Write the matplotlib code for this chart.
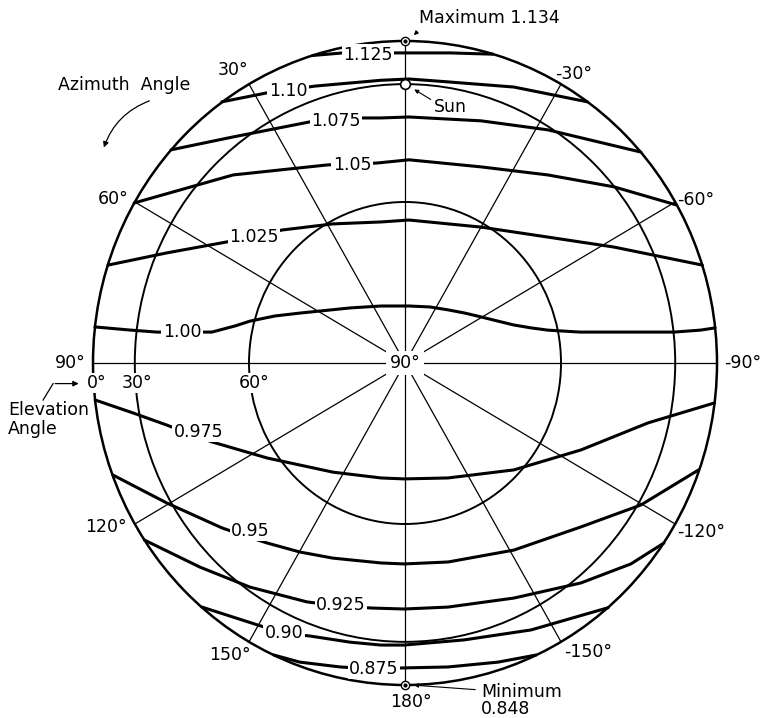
import numpy as np
import matplotlib
matplotlib.use("Agg")
import matplotlib.pyplot as plt
from matplotlib.patches import Ellipse, FancyArrowPatch

# Sky radiance ratio contours, given as direction cosines on the sky hemisphere
# (x: toward azimuth -90 positive, y: toward azimuth 0 positive; horizon is the unit circle)
c1125_x = [-0.296, -0.199, -0.119, -0.048, 0.013, 0.144, 0.282]
c1125_y = [0.955, 0.963, 0.963, 0.963, 0.963, 0.963, 0.959]

c1100_x = [-0.587, -0.442, -0.375, -0.288, -0.077, 0.013, 0.138, 0.349, 0.585]
c1100_y = [0.811, 0.839, 0.848, 0.860, 0.878, 0.882, 0.873, 0.857, 0.811]

c1075_x = [-0.750, -0.551, -0.304, -0.221, -0.138, -0.077, 0.013, 0.244, 0.458, 0.756]
c1075_y = [0.662, 0.702, 0.749, 0.755, 0.761, 0.761, 0.764, 0.752, 0.724, 0.655]

c1050_x = [-0.868, -0.551, -0.250, -0.170, -0.090, 0.013, 0.244, 0.458, 0.670, 0.869]
c1050_y = [0.497, 0.584, 0.615, 0.618, 0.621, 0.631, 0.609, 0.584, 0.547, 0.491]

c1025_x = [-0.952, -0.763, -0.571, -0.484, -0.394, -0.231, -0.077, 0.013, 0.244, 0.458, 0.670, 0.953]
c1025_y = [0.304, 0.342, 0.376, 0.394, 0.413, 0.432, 0.438, 0.444, 0.422, 0.391, 0.360, 0.304]

c1000_x = [-0.994, -0.878, -0.795, -0.715, -0.619, -0.545, -0.497, -0.417, -0.337, -0.176, -0.077,
           0.013, 0.080, 0.138, 0.192, 0.244, 0.298, 0.349, 0.404, 0.458, 0.561, 0.670, 0.862,
           0.946, 0.994]
c1000_y = [0.112, 0.102, 0.096, 0.096, 0.096, 0.115, 0.130, 0.146, 0.155, 0.171, 0.177,
           0.177, 0.174, 0.165, 0.155, 0.143, 0.130, 0.118, 0.109, 0.102, 0.096, 0.096, 0.096,
           0.102, 0.109]

c0975_x = [-0.993, -0.872, -0.763, -0.689, -0.619, -0.442, -0.231, -0.077, -0.003, 0.138, 0.349,
           0.564, 0.779, 0.992]
c0975_y = [-0.115, -0.155, -0.193, -0.221, -0.245, -0.295, -0.339, -0.357, -0.360, -0.357, -0.332,
           -0.270, -0.186, -0.124]

c0950_x = [-0.936, -0.763, -0.587, -0.513, -0.442, -0.337, -0.231, -0.077, -0.003, 0.138, 0.349,
           0.564, 0.756, 0.941]
c0950_y = [-0.348, -0.435, -0.512, -0.537, -0.559, -0.587, -0.606, -0.621, -0.624, -0.618, -0.581,
           -0.509, -0.441, -0.332]

c0925_x = [-0.835, -0.657, -0.497, -0.314, -0.205, -0.106, -0.003, 0.138, 0.349, 0.564, 0.724, 0.830]
c0925_y = [-0.550, -0.634, -0.696, -0.742, -0.755, -0.761, -0.764, -0.758, -0.730, -0.683, -0.624, -0.559]

c0900_x = [-0.651, -0.471, -0.388, -0.304, -0.176, -0.077, -0.003, 0.189, 0.404, 0.651]
c0900_y = [-0.758, -0.814, -0.839, -0.848, -0.867, -0.876, -0.876, -0.860, -0.829, -0.760]

c0875_x = [-0.420, -0.337, -0.208, -0.103, -0.006, 0.138, 0.298, 0.420]
c0875_y = [-0.907, -0.929, -0.944, -0.950, -0.947, -0.944, -0.929, -0.907]

level_labels = ["1.125", "1.10", "1.075", "1.05", "1.025", "1.00",
                "0.975", "0.95", "0.925", "0.90", "0.875"]
contours_x = [c1125_x, c1100_x, c1075_x, c1050_x, c1025_x, c1000_x,
              c0975_x, c0950_x, c0925_x, c0900_x, c0875_x]
contours_y = [c1125_y, c1100_y, c1075_y, c1050_y, c1025_y, c1000_y,
              c0975_y, c0950_y, c0925_y, c0900_y, c0875_y]
# where each level label sits along its contour
label_x = [-0.119, -0.375, -0.221, -0.170, -0.484, -0.715, -0.662, -0.496, -0.205, -0.388, -0.099]
label_y = [0.958, 0.846, 0.752, 0.615, 0.390, 0.096, -0.213, -0.521, -0.752, -0.839, -0.950]

# Grid: elevation rings and azimuth spokes
elev_rings = [0, 30, 60]
azimuths = [30, 60, 120, 150, -30, -60, -120, -150]
azimuth_labels = ["30°", "60°", "120°", "150°", "-30°", "-60°", "-120°", "-150°"]
azimuth_label_x = [-0.551, -0.936, -0.958, -0.561, 0.542, 0.933, 0.949, 0.587]
azimuth_label_y = [0.910, 0.509, -0.509, -0.907, 0.898, 0.506, -0.525, -0.898]

sun_elevation = 30
max_value = 1.134
min_value = 0.848


def sky_xy(az_deg, el_deg):
    az = np.radians(az_deg)
    el = np.radians(el_deg)
    return -np.cos(el) * np.sin(az), np.cos(el) * np.cos(az)


fig = plt.figure(figsize=(7.62, 7.18), dpi=100)
ax = fig.add_axes([0, 0, 1, 1])
ax.set_xlim(-1.2981, 1.1442)
ax.set_ylim(-1.1025, 1.1273)
ax.axis("off")

FS = 12.5
txt = dict(fontsize=FS, color="black", family="DejaVu Sans")
white = dict(facecolor="white", edgecolor="none", pad=1.0)

# elevation rings
for el in elev_rings:
    r = np.cos(np.radians(el))
    lw = 1.8 if el == 0 else 1.4
    ax.add_patch(Ellipse((0, 0), 2 * r, 2 * r, fill=False, lw=lw, ec="black", zorder=2))

# azimuth spokes
for az in azimuths:
    x1, y1 = sky_xy(az, 0)
    ax.plot([0, x1], [0, y1], color="black", lw=0.9, zorder=1)
ax.plot([-1, 1], [0, 0], color="black", lw=0.9, zorder=1)
ax.plot([0, 0], [-1, 1], color="black", lw=0.9, zorder=1)

# contours
for xs, ys, lab, lx, ly in zip(contours_x, contours_y, level_labels, label_x, label_y):
    ax.plot(xs, ys, color="black", lw=2.2, solid_capstyle="round", solid_joinstyle="round", zorder=3)
    ax.text(lx, ly, lab, ha="center", va="center", bbox=white, zorder=5, **txt)

# azimuth labels
for lab, lx, ly in zip(azimuth_labels, azimuth_label_x, azimuth_label_y):
    ax.text(lx, ly, lab, ha="center", va="center", zorder=5, **txt)
ax.text(-1.074, 0.0, "90°", ha="center", va="center", zorder=5, **txt)
ax.text(1.083, 0.0, "-90°", ha="center", va="center", zorder=5, **txt)
ax.text(0.019, -1.053, "180°", ha="center", va="center", zorder=5, **txt)

# zenith label
ax.text(0.0, 0.0, "90°", ha="center", va="center", bbox=dict(facecolor="white", edgecolor="none", pad=2.5),
        zorder=5, **txt)

# elevation labels along the horizontal
for el, lx in zip(elev_rings, [-1.000, -0.872, -0.497]):
    ax.text(lx + 0.012, -0.062, f"{el}°", ha="center", va="center",
            bbox=dict(facecolor="white", edgecolor="none", pad=0.5), zorder=5, **txt)

ax.text(-1.272, -0.146, "Elevation", ha="left", va="center", zorder=5, **txt)
ax.text(-1.272, -0.205, "Angle", ha="left", va="center", zorder=5, **txt)
ax.plot([-1.160, -1.128], [-0.115, -0.064], color="black", lw=0.9, zorder=5)
ax.annotate("", xy=(-1.037, -0.064), xytext=(-1.130, -0.064),
            arrowprops=dict(arrowstyle="-|>", lw=0.9, color="black", mutation_scale=8), zorder=5)

# azimuth direction note
ax.text(-0.901, 0.863, "Azimuth  Angle", ha="center", va="center", zorder=5, **txt)
ax.add_patch(FancyArrowPatch((-0.811, 0.817), (-0.968, 0.661), connectionstyle="arc3,rad=0.25",
                             arrowstyle="-|>", mutation_scale=8, lw=0.9, color="black", zorder=5))

# maximum, sun and minimum markers
mx, my = sky_xy(0, 0)
ax.plot([mx], [my], marker="o", ms=6, mfc="white", mec="black", mew=1.0, zorder=6)
ax.plot([mx], [my], marker="o", ms=2, color="black", zorder=7)
ax.text(0.045, 1.071, f"Maximum {max_value}", ha="left", va="center", zorder=5, **txt)
ax.annotate("", xy=(0.022, 1.012), xytext=(0.045, 1.034),
            arrowprops=dict(arrowstyle="-|>", lw=0.8, color="black", mutation_scale=6), zorder=6)

sx, sy = sky_xy(0, sun_elevation)
ax.plot([sx], [sy], marker="o", ms=7, mfc="white", mec="black", mew=1.2, zorder=6)
ax.text(0.093, 0.795, "Sun", ha="left", va="center", zorder=5, **txt)
ax.annotate("", xy=(0.022, 0.854), xytext=(0.090, 0.814),
            arrowprops=dict(arrowstyle="-|>", lw=0.8, color="black", mutation_scale=6), zorder=6)

nx, ny = sky_xy(180, 0)
ax.plot([nx], [ny], marker="o", ms=6, mfc="white", mec="black", mew=1.0, zorder=6)
ax.plot([nx], [ny], marker="o", ms=2, color="black", zorder=7)
ax.text(0.244, -1.022, "Minimum", ha="left", va="center", zorder=5, **txt)
ax.text(0.244, -1.075, f"{min_value}", ha="left", va="center", zorder=5, **txt)
ax.annotate("", xy=(0.020, -1.000), xytext=(0.234, -1.015),
            arrowprops=dict(arrowstyle="-|>", lw=0.8, color="black", mutation_scale=6), zorder=6)

fig.savefig("out.png", dpi=100, facecolor="white")
